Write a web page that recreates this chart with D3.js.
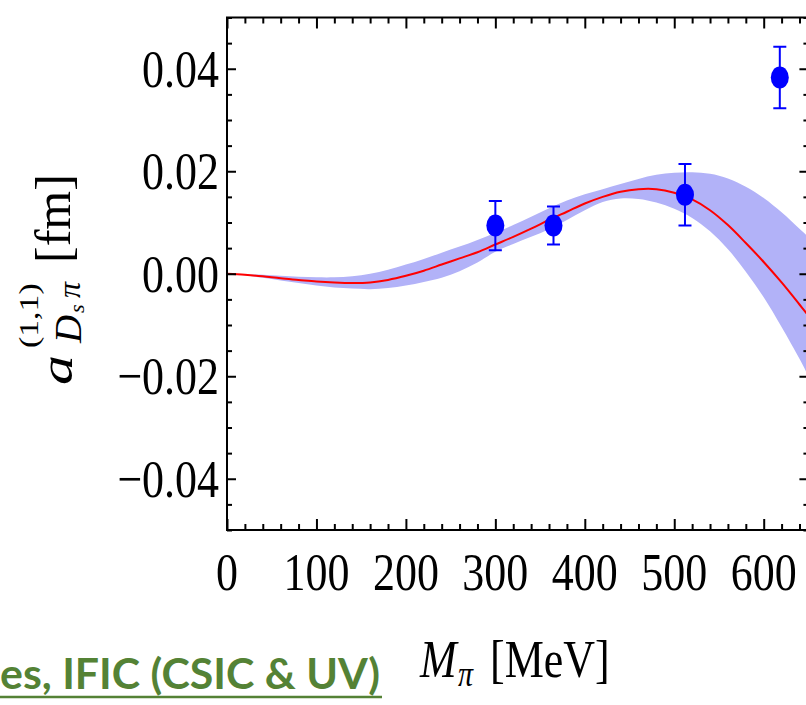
<!DOCTYPE html>
<html>
<head>
<meta charset="utf-8">
<script src="https://cdn.jsdelivr.net/npm/d3@7/dist/d3.min.js"></script>
<style>
  html, body { margin: 0; padding: 0; background: #fff; }
  svg { display: block; }
</style>
</head>
<body>
<svg id="chart" width="806" height="705"></svg>
<script>
// ---------------- data ----------------
const mpiGrid  = [0, 20, 40, 60, 80, 100, 120, 140, 160, 180, 200, 220, 240, 260, 280, 300, 320, 340, 360, 380, 400, 420, 440, 460, 480, 500, 520, 540, 560, 580, 600, 620, 640, 650];
const central  = [0, -0.0002, -0.0005, -0.0009, -0.0012, -0.0015, -0.0017, -0.0018, -0.0017, -0.0012, -0.0004, 0.0006, 0.0018, 0.0030, 0.0042, 0.0057, 0.0072, 0.0088, 0.0105, 0.0121, 0.0137, 0.0150, 0.0160, 0.0165, 0.0165, 0.0158, 0.0145, 0.0124, 0.0095, 0.0060, 0.0023, -0.0017, -0.0060, -0.0082];
const bandUpper = [0, -0.0001, -0.0002, -0.0004, -0.0006, -0.0007, -0.0007, -0.0005, 0.0000, 0.0008, 0.0018, 0.0029, 0.0041, 0.0053, 0.0066, 0.0080, 0.0095, 0.0111, 0.0128, 0.0143, 0.0155, 0.0165, 0.0175, 0.0185, 0.0193, 0.0197, 0.0198, 0.0195, 0.0186, 0.0170, 0.0148, 0.0120, 0.0088, 0.0072];
const bandLower = [0, -0.0003, -0.0008, -0.0013, -0.0018, -0.0023, -0.0027, -0.0029, -0.0030, -0.0028, -0.0023, -0.0016, -0.0008, 0.0005, 0.0022, 0.0043, 0.0058, 0.0072, 0.0087, 0.0105, 0.0124, 0.0140, 0.0147, 0.0146, 0.0139, 0.0127, 0.0109, 0.0083, 0.0048, 0.0004, -0.0046, -0.0104, -0.0166, -0.0200];

const latticeM   = [300, 365, 512, 618];
const latticeA   = [0.0094, 0.0094, 0.0154, 0.0383];
const latticeErr = [0.0048, 0.0037, 0.0060, 0.0060];

const xTickValues = [0, 100, 200, 300, 400, 500, 600];
const xTickLabels = ["0", "100", "200", "300", "400", "500", "600"];
const yTickValues = [-0.04, -0.02, 0.00, 0.02, 0.04];
const yTickLabels = ["\u22120.04", "\u22120.02", "0.00", "0.02", "0.04"];

// ---------------- layout ----------------
const svg = d3.select("#chart");
const pLeft = 227, pTop = 17.5, pBottom = 530;
const pRight = pLeft + 650 * 0.8945;
const x = d3.scaleLinear().domain([0, 650]).range([pLeft, pRight]);
const y = d3.scaleLinear().domain([-0.05, 0.05]).range([pBottom, pTop]);
const SERIF = "'Liberation Serif','Times New Roman',Times,serif";
const STRETCH = 1.22;

svg.append("defs").append("clipPath").attr("id", "plotclip")
  .append("rect").attr("x", pLeft).attr("y", pTop).attr("width", pRight - pLeft).attr("height", pBottom - pTop);

const plot = svg.append("g").attr("clip-path", "url(#plotclip)");

const bandData = mpiGrid.map((m, i) => ({ m, lo: bandLower[i], hi: bandUpper[i] }));
const lineData = mpiGrid.map((m, i) => ({ m, v: central[i] }));

plot.append("path")
  .datum(bandData)
  .attr("fill", "#b2b2f8")
  .attr("stroke", "none")
  .attr("d", d3.area().curve(d3.curveCatmullRom.alpha(0.5))
    .x(d => x(d.m)).y0(d => y(d.lo)).y1(d => y(d.hi)));

plot.append("path")
  .datum(lineData)
  .attr("fill", "none")
  .attr("stroke", "#ff0000")
  .attr("stroke-width", 2)
  .attr("d", d3.line().curve(d3.curveCatmullRom.alpha(0.5))
    .x(d => x(d.m)).y(d => y(d.v)));

// error bars + points
const pts = latticeM.map((m, i) => ({ m, a: latticeA[i], e: latticeErr[i] }));
const eb = plot.append("g").attr("stroke", "#0000ff").attr("stroke-width", 2);
pts.forEach(p => {
  eb.append("line").attr("x1", x(p.m)).attr("x2", x(p.m)).attr("y1", y(p.a - p.e)).attr("y2", y(p.a + p.e));
  eb.append("line").attr("x1", x(p.m) - 6.5).attr("x2", x(p.m) + 6.5).attr("y1", y(p.a + p.e)).attr("y2", y(p.a + p.e));
  eb.append("line").attr("x1", x(p.m) - 6.5).attr("x2", x(p.m) + 6.5).attr("y1", y(p.a - p.e)).attr("y2", y(p.a - p.e));
});
plot.append("g").selectAll("ellipse").data(pts).join("ellipse")
  .attr("cx", d => x(d.m)).attr("cy", d => y(d.a))
  .attr("rx", 9).attr("ry", 11).attr("fill", "#0000ff");

// ---------------- axes (frame with ticks on all sides) ----------------
const xMinor = d3.range(0, 651, 20).filter(v => v % 100 !== 0);
const yMinor = d3.range(-50, 51, 5).filter(v => v % 20 !== 0).map(v => v / 1000);

function styleAxis(g) {
  g.select(".domain").remove();
  g.selectAll("line").attr("stroke", "#000").attr("stroke-width", 2);
}

// bottom
svg.append("g").attr("transform", `translate(0,${pBottom})`)
  .call(d3.axisTop(x).tickValues(xTickValues).tickSize(11).tickFormat("")).call(styleAxis);
svg.append("g").attr("transform", `translate(0,${pBottom})`)
  .call(d3.axisTop(x).tickValues(xMinor).tickSize(6).tickFormat("")).call(styleAxis);
// top
svg.append("g").attr("transform", `translate(0,${pTop})`)
  .call(d3.axisBottom(x).tickValues(xTickValues).tickSize(11).tickFormat("")).call(styleAxis);
svg.append("g").attr("transform", `translate(0,${pTop})`)
  .call(d3.axisBottom(x).tickValues(xMinor).tickSize(6).tickFormat("")).call(styleAxis);
// left
svg.append("g").attr("transform", `translate(${pLeft},0)`)
  .call(d3.axisRight(y).tickValues(yTickValues).tickSize(9).tickFormat("")).call(styleAxis);
svg.append("g").attr("transform", `translate(${pLeft},0)`)
  .call(d3.axisRight(y).tickValues(yMinor).tickSize(5).tickFormat("")).call(styleAxis);
// right
svg.append("g").attr("transform", `translate(${pRight},0)`)
  .call(d3.axisLeft(y).tickValues(yTickValues).tickSize(9).tickFormat("")).call(styleAxis);
svg.append("g").attr("transform", `translate(${pRight},0)`)
  .call(d3.axisLeft(y).tickValues(yMinor).tickSize(5).tickFormat("")).call(styleAxis);

// frame
svg.append("rect").attr("x", pLeft).attr("y", pTop).attr("width", pRight - pLeft).attr("height", pBottom - pTop)
  .attr("fill", "none").attr("stroke", "#000").attr("stroke-width", 2);

// tick labels
svg.append("g").selectAll("text").data(xTickValues).join("text")
  .attr("transform", d => `translate(${x(d)},590) scale(1,${STRETCH})`)
  .attr("text-anchor", "middle")
  .attr("font-family", SERIF).attr("font-size", 44).attr("fill", "#000")
  .text((d, i) => xTickLabels[i]);

svg.append("g").selectAll("text").data(yTickValues).join("text")
  .attr("transform", d => `translate(219,${y(d) + 18}) scale(1,${STRETCH})`)
  .attr("text-anchor", "end")
  .attr("font-family", SERIF).attr("font-size", 44).attr("fill", "#000")
  .text((d, i) => yTickLabels[i]);

// x axis label: M_π [MeV]
const xl = svg.append("g").attr("transform", `translate(420,677) scale(1,${STRETCH})`)
  .attr("font-family", SERIF).attr("fill", "#000");
xl.append("text").attr("x", 0).attr("y", 0).attr("font-size", 44).attr("font-style", "italic").text("M");
xl.append("text").attr("x", 38).attr("y", 7).attr("font-size", 30).attr("font-style", "italic").text("\u03c0");
xl.append("text").attr("x", 70).attr("y", 0).attr("font-size", 44).text("[MeV]");

// y axis label (rotated): a^{(1,1)}_{D_s π} [fm]
function rotText(startY, baseX, size, str, italic, stretch) {
  return svg.append("text")
    .attr("transform", `translate(${baseX},${startY}) rotate(-90) scale(${stretch},1)`)
    .attr("font-family", SERIF).attr("font-size", size)
    .attr("font-style", italic ? "italic" : "normal")
    .attr("fill", "#000").text(str);
}
rotText(385, 72, 46, "a", true, 1.3);
rotText(348, 38, 27, "(1,1)", false, 1.25);
rotText(343, 81, 37, "D", true, 1.05);
rotText(313, 84, 20, "s", true, 1.1);
rotText(298, 80, 32, "\u03c0", true, 1.0);
rotText(263, 70, 50, "[fm]", false, 1.0);

// footer fragment (green, bold, underlined)
svg.append("text")
  .attr("x", 0).attr("y", 689)
  .attr("font-family", "Lato, 'Open Sans', sans-serif").attr("font-weight", 700)
  .attr("font-size", 42).attr("fill", "#548235")
  .attr("textLength", 380).attr("lengthAdjust", "spacingAndGlyphs")
  .text("es, IFIC (CSIC & UV)");
svg.append("line").attr("x1", 0).attr("x2", 382).attr("y1", 697).attr("y2", 697)
  .attr("stroke", "#548235").attr("stroke-width", 2.5);
</script>
</body>
</html>
